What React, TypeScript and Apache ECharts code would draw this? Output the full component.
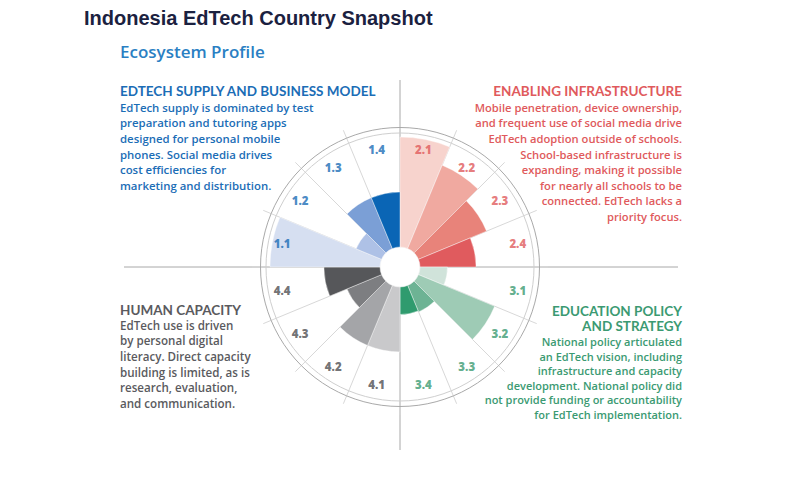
import React, { useEffect, useRef } from "react";
import * as echarts from "echarts";

const categories = ["2.1", "2.2", "2.3", "2.4", "3.1", "3.2", "3.3", "3.4", "4.1", "4.2", "4.3", "4.4", "1.1", "1.2", "1.3", "1.4"];
const scores = [100, 82, 67, 51, 25, 75, 26, 25, 59, 59, 34, 51, 100, 25, 50, 50];

const barColors = [
  "#f7d3cd", "#f0a9a0", "#e8837a", "#e05b5e",
  "#d0e3da", "#9ecbb5", "#6db394", "#2f9b6e",
  "#c9c9cb", "#a4a5a8", "#7d7e81", "#56575a",
  "#d6dff1", "#aec1e6", "#7b9fd6", "#0a65b5",
];
const groupColors: Record<string, string> = { "1": "#1b6db6", "2": "#e05a5c", "3": "#3b9a72", "4": "#4e4e52" };

const titleText = "Indonesia EdTech Country Snapshot";
const subtitleText = "Ecosystem Profile";

const supplyHeader = "EDTECH SUPPLY AND BUSINESS MODEL";
const supplyBody = [
  "EdTech supply is dominated by test",
  "preparation and tutoring apps",
  "designed for personal mobile",
  "phones. Social media drives",
  "cost efficiencies for",
  "marketing and distribution.",
];
const infraHeader = "ENABLING INFRASTRUCTURE";
const infraBody = [
  "Mobile penetration, device ownership,",
  "and frequent use of social media drive",
  "EdTech adoption outside of schools.",
  "School-based infrastructure is",
  "expanding, making it possible",
  "for nearly all schools to be",
  "connected. EdTech lacks a",
  "priority focus.",
];
const humanHeader = "HUMAN CAPACITY";
const humanBody = [
  "EdTech use is driven",
  "by personal digital",
  "literacy. Direct capacity",
  "building is limited, as is",
  "research, evaluation,",
  "and communication.",
];
const policyHeader = ["EDUCATION POLICY", "AND STRATEGY"];
const policyBody = [
  "National policy articulated",
  "an EdTech vision, including",
  "infrastructure and capacity",
  "development. National policy did",
  "not provide funding or accountability",
  "for EdTech implementation.",
];

const CX = 400;
const CY = 267;
const FONT = '"Open Sans", sans-serif';
const HFONT = 'Lato, "Open Sans", sans-serif';

function txt(text: string, x: number, y: number, opts: any) {
  return {
    type: "text",
    x,
    y,
    z: 10,
    style: {
      text,
      fontFamily: FONT,
      textAlign: "left",
      textVerticalAlign: "middle",
      ...opts,
    },
  };
}

export default function App() {
  const ref = useRef<HTMLDivElement>(null);

  useEffect(() => {
    if (!ref.current) return;
    const chart = echarts.init(ref.current, undefined, { renderer: "svg" });

    const hiddenAngle = {
      type: "category",
      data: categories,
      startAngle: 90,
      clockwise: true,
      axisLine: { show: false },
      axisTick: { show: false },
      axisLabel: { show: false, interval: 0 },
      splitLine: { show: false },
    };

    const head = { fontFamily: HFONT, fontWeight: 700, fontSize: 13.5 };

    const option: any = {
      animation: false,
      polar: [
        { center: [CX, CY], radius: [20, 130] },
        { center: [CX, CY], radius: [20, 148] },
      ],
      angleAxis: [
        { ...hiddenAngle, polarIndex: 0 },
        {
          ...hiddenAngle,
          polarIndex: 1,
          splitLine: { show: true, interval: 0, lineStyle: { color: "#d8d8d8", width: 1 } },
        },
      ],
      radiusAxis: [
        { polarIndex: 0, min: 0, max: 100, show: false },
        { polarIndex: 1, min: 0, max: 1, show: false },
      ],
      series: [
        {
          type: "bar",
          coordinateSystem: "polar",
          polarIndex: 0,
          barCategoryGap: "0%",
          z: 3,
          data: scores.map((v, i) => ({
            value: v,
            itemStyle: { color: barColors[i], borderColor: "#ffffff", borderWidth: 0.4 },
          })),
        },
        {
          type: "scatter",
          coordinateSystem: "polar",
          polarIndex: 0,
          symbolSize: 1,
          z: 4,
          itemStyle: { color: "rgba(0,0,0,0)" },
          data: categories.map((c, i) => ({
            value: [91, i],
            label: {
              show: true,
              position: "inside",
              formatter: c,
              color: groupColors[c.charAt(0)],
              fontFamily: FONT,
              fontWeight: 800,
              fontSize: 11.5,
            },
          })),
        },
      ],
      graphic: [
        { type: "line", z: 0, shape: { x1: 124, y1: CY, x2: 678, y2: CY }, style: { stroke: "#a8a8a8", lineWidth: 1 } },
        { type: "line", z: 0, shape: { x1: CX, y1: 80, x2: CX, y2: 450 }, style: { stroke: "#a8a8a8", lineWidth: 1 } },
        { type: "circle", z: 1, shape: { cx: CX, cy: CY, r: 134 }, style: { fill: "none", stroke: "#cfcfcf", lineWidth: 1 } },
        { type: "circle", z: 1, shape: { cx: CX, cy: CY, r: 139.5 }, style: { fill: "none", stroke: "#a9a9a9", lineWidth: 1 } },
        { type: "circle", z: 1, shape: { cx: CX, cy: CY, r: 20 }, style: { fill: "#ffffff", stroke: "#e4e4e4", lineWidth: 0.6 } },
        txt(titleText, 84, 18, { fontFamily: '"Liberation Sans", Arial, sans-serif', fontWeight: "bold", fontSize: 20, fill: "#1b2140" }),
        txt(subtitleText, 120, 51, { fontWeight: 600, fontSize: 17, fill: "#2a7fc3" }),

        txt(supplyHeader, 120, 91, { ...head, fill: "#1b6db6" }),
        txt(supplyBody.join("\n"), 120, 99.5, { fontWeight: 600, fontSize: 11.4, lineHeight: 15.6, textVerticalAlign: "top", fill: "#1b6db6" }),

        txt(infraHeader, 682, 91, { ...head, textAlign: "right", fill: "#e05a5c" }),
        txt(infraBody.join("\n"), 682, 99.5, { fontWeight: 600, fontSize: 11.2, lineHeight: 15.6, textAlign: "right", textVerticalAlign: "top", fill: "#e05a5c" }),

        txt(humanHeader, 120, 309.5, { ...head, fill: "#5a5a5e" }),
        txt(humanBody.join("\n"), 120, 317.2, { fontWeight: 600, fontSize: 11.6, lineHeight: 15.7, textVerticalAlign: "top", fill: "#5a5a5e" }),

        txt(policyHeader[0], 682, 310.5, { ...head, textAlign: "right", fill: "#3b9a72" }),
        txt(policyHeader[1], 682, 326, { ...head, textAlign: "right", fill: "#3b9a72" }),
        txt(policyBody.join("\n"), 682, 334.5, { fontWeight: 600, fontSize: 11, lineHeight: 14.5, textAlign: "right", textVerticalAlign: "top", fill: "#3b9a72" }),
      ],
    };

    chart.setOption(option);
    return () => chart.dispose();
  }, []);

  return (
    <div
      ref={ref}
      style={{ position: "absolute", left: 0, top: 0, width: 800, height: 492, background: "#ffffff" }}
    />
  );
}
